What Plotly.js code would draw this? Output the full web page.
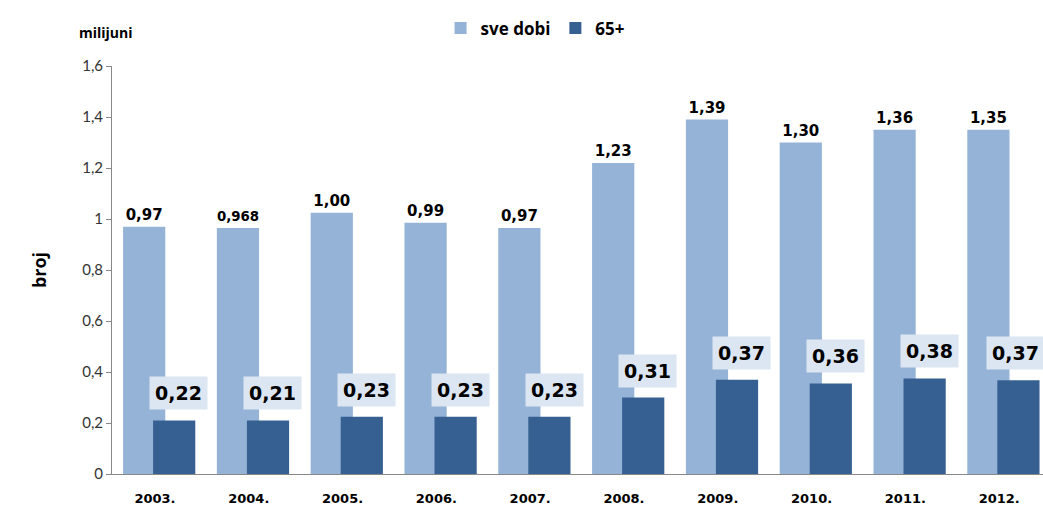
<!DOCTYPE html>
<html>
<head>
<meta charset="utf-8">
<script src="https://cdn.plot.ly/plotly-3.0.1.min.js"></script>
<style>html,body{margin:0;padding:0;background:#fff;}#chart{width:1043px;height:516px;}</style>
</head>
<body>
<div id="chart"></div>
<script>
const years = ['2003.', '2004.', '2005.', '2006.', '2007.', '2008.', '2009.', '2010.', '2011.', '2012.'];
const allAges = [0.97, 0.965, 1.025, 0.985, 0.965, 1.22, 1.39, 1.30, 1.35, 1.35];
const allAgesLabels = ['0,97', '0,968', '1,00', '0,99', '0,97', '1,23', '1,39', '1,30', '1,36', '1,35'];
const age65 = [0.21, 0.21, 0.225, 0.225, 0.225, 0.30, 0.37, 0.355, 0.375, 0.368];
const age65Labels = ['0,22', '0,21', '0,23', '0,23', '0,23', '0,31', '0,37', '0,36', '0,38', '0,37'];
const yTicks = [0, 0.2, 0.4, 0.6, 0.8, 1, 1.2, 1.4, 1.6];
const yTickLabels = ['0', '0,2', '0,4', '0,6', '0,8', '1', '1,2', '1,4', '1,6'];

const light = '#95b3d7';
const dark = '#376092';

const traces = [
  {
    type: 'bar', name: 'sve dobi', x: years, y: allAges,
    width: 0.45, offset: -0.34,
    marker: {color: light},
    text: allAgesLabels, textposition: 'outside', cliponaxis: false,
    textfont: {family: 'DejaVu Sans', size: 15, color: '#000', weight: 'bold'},
    hoverinfo: 'skip'
  },
  {
    type: 'bar', name: '65+', x: years, y: age65,
    width: 0.45, offset: -0.02,
    marker: {color: dark},
    hoverinfo: 'skip'
  }
];

const annotations = years.map((yr, i) => ({
  x: i, y: age65[i], xref: 'x', yref: 'y',
  text: '<b>' + age65Labels[i] + '</b>',
  showarrow: false, xshift: i === years.length - 1 ? 16 : 24, yshift: 27,
  bgcolor: '#dce6f2', borderpad: 5,
  font: {family: 'DejaVu Sans', size: 19, color: '#000'}
}));
annotations.push({
  xref: 'paper', yref: 'paper', x: -0.006, y: 1.083, xanchor: 'center', yanchor: 'middle',
  text: '<b>milijuni</b>', showarrow: false,
  font: {family: 'Open Sans', size: 14, color: '#000', weight: 'bold'}
});

const layout = {
  width: 1043, height: 516,
  margin: {l: 112, r: 0, t: 66, b: 42},
  paper_bgcolor: '#fff', plot_bgcolor: '#fff',
  barmode: 'overlay',
  separators: ',.',
  showlegend: true,
  legend: {
    orientation: 'h', xref: 'container', yref: 'container',
    x: 0.513, xanchor: 'center', y: 0.945, yanchor: 'middle',
    font: {family: 'Open Sans', size: 17, color: '#000', weight: 'bold'},
    itemwidth: 30, tracegroupgap: 0
  },
  xaxis: {
    type: 'category', range: [-0.458, 9.467],
    showline: true, linecolor: '#888', linewidth: 1,
    ticks: '', showgrid: false, zeroline: false,
    tickfont: {family: 'DejaVu Sans', size: 13, color: '#000', weight: 'bold'},
    ticklabelstandoff: 12
  },
  yaxis: {
    range: [0, 1.6], tickvals: yTicks, ticktext: yTickLabels,
    showline: true, linecolor: '#888', linewidth: 1,
    ticks: 'outside', ticklen: 5, tickcolor: '#888',
    showgrid: false, zeroline: false,
    tickfont: {family: 'Lato', size: 15, color: '#333'},
    title: {text: '<b>broj</b>', font: {family: 'Open Sans', size: 18, color: '#000', weight: 'bold'}, standoff: 30}
  },
  annotations: annotations
};

Plotly.newPlot('chart', traces, layout, {staticPlot: true});
</script>
</body>
</html>
